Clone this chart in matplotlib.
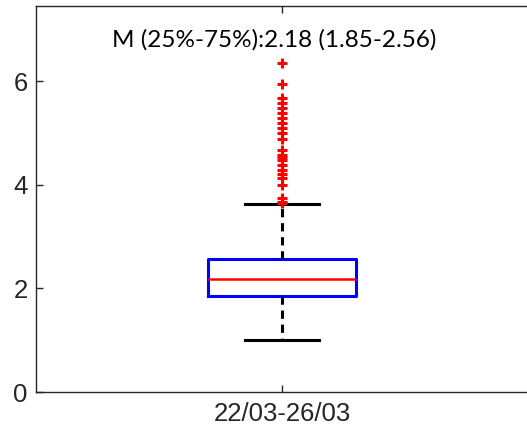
import matplotlib.pyplot as plt

# Box statistics
label = "22/03-26/03"
median = 2.18
q1 = 1.85
q3 = 2.56
whisker_low = 1.00
whisker_high = 3.62
outliers = [6.35, 5.94, 5.68, 5.58, 5.49, 5.39, 5.29, 5.19, 5.10, 4.99, 4.89,
            4.67, 4.57, 4.53, 4.48, 4.38, 4.29, 4.20, 4.13, 4.00, 3.74, 3.67, 3.64]
yticks = [0, 2, 4, 6]
note = f"M (25%-75%):{median:.2f} ({q1:.2f}-{q3:.2f})"

plt.rcParams['font.family'] = ['Liberation Sans', 'DejaVu Sans']

fig = plt.figure(figsize=(5.27, 4.33), dpi=100)
# right edge of the axes falls just outside the picture (cropped)
ax = fig.add_axes([36 / 527, 41 / 433, 500 / 527, 386.5 / 433])

stats = [{
    'med': median, 'q1': q1, 'q3': q3,
    'whislo': whisker_low, 'whishi': whisker_high,
    'fliers': outliers, 'label': label,
}]
ax.bxp(stats, positions=[1], widths=0.30,
       boxprops=dict(color='#0000ff', linewidth=2.2),
       medianprops=dict(color='#ff0000', linewidth=1.8),
       whiskerprops=dict(color='black', linewidth=2.2, linestyle=(0, (2.7, 1.9))),
       capprops=dict(color='black', linewidth=2.2),
       flierprops=dict(marker='+', markeredgecolor='#ff0000',
                       markersize=7, markeredgewidth=2.2, linestyle='none'),
       capwidths=0.15)

ax.set_xlim(0.5, 1.516)
ax.set_ylim(0, 7.46)
ax.set_yticks(yticks)
ax.set_xticks([1])
ax.set_xticklabels([label])

for s in ax.spines.values():
    s.set_color('#262626')
    s.set_linewidth(1.0)
ax.tick_params(direction='in', length=5, width=1.0, color='#262626',
               labelcolor='#262626', labelsize=18.5, top=True, right=True)
ax.tick_params(axis='y', pad=6)
ax.tick_params(axis='x', pad=7)

ax.text(0.984, 6.79, note, ha='center', va='center', fontsize=17.5,
        family=['Lato', 'DejaVu Sans'], color='black')

fig.savefig('out.png', dpi=100)
